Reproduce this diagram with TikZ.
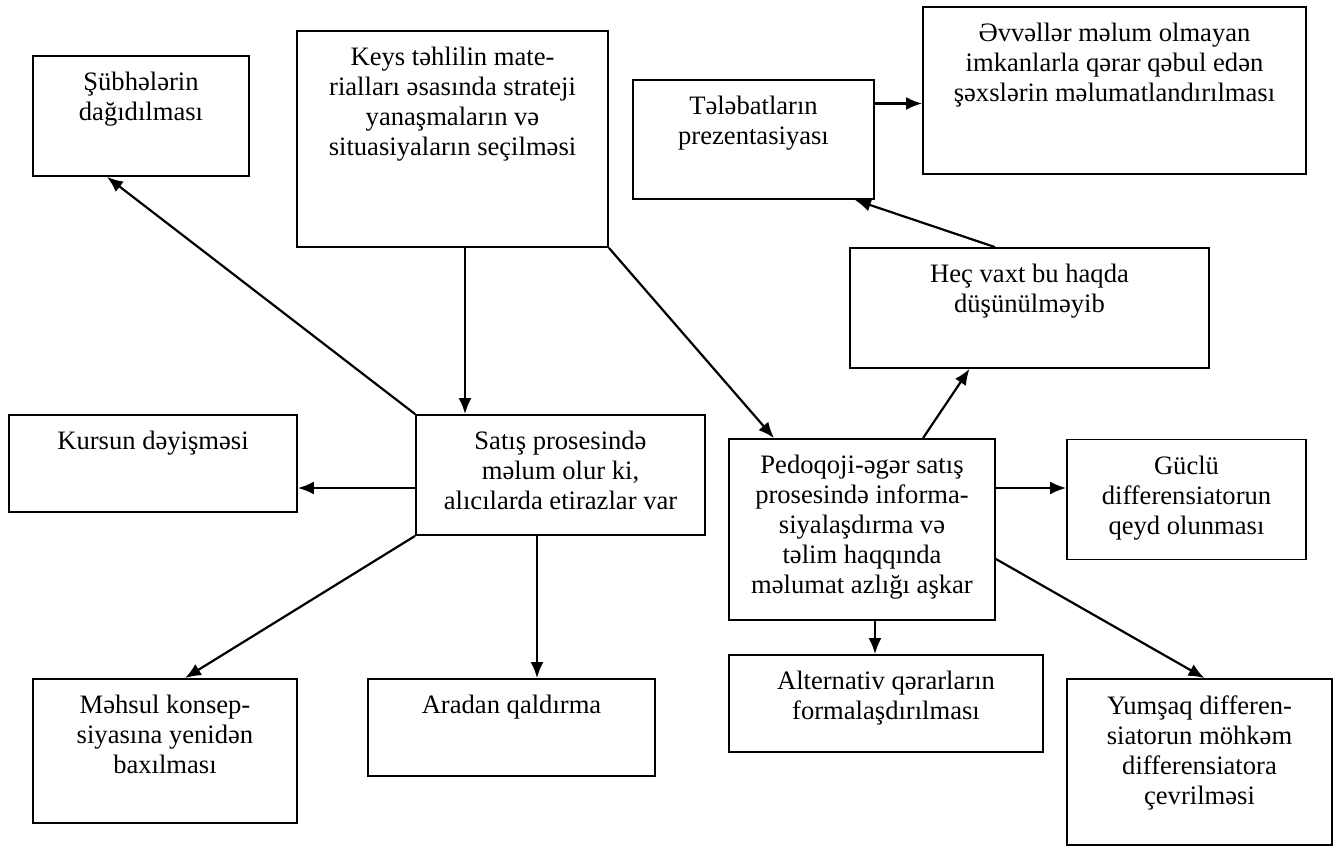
\documentclass[tikz,border=0pt]{standalone}
\usepackage{fontspec}
\setmainfont{Liberation Serif}
\usetikzlibrary{arrows.meta}

\begin{document}
\begin{tikzpicture}[x=0.5pt,y=-0.5pt,
   box/.style={draw, line width=0.9, inner sep=0pt},
   txt/.style={anchor=north, align=center, inner xsep=0pt, inner ysep=8.5pt, font=\fontsize{13.3}{15}\selectfont},
   arr/.style={->,>={Latex[length=8pt,width=6.5pt]}, line width=1.1}]
\useasboundingbox (0,0) rectangle (1335,847);
      \node[box, minimum width=108pt, minimum height=60pt](subhe)  at (141,116) {};
      \node[box, minimum width=155.5pt, minimum height=108pt](keys)  at (452.5,139) {};
      \node[box, minimum width=120.5pt, minimum height=59.5pt](telebat)  at (753.5,139.5) {};
      \node[box, minimum width=191.5pt, minimum height=83.5pt](evveller)  at (1114.5,90.5) {};
      \node[box, minimum width=179.5pt, minimum height=60pt](hec)  at (1029.5,308) {};
      \node[box, minimum width=144pt, minimum height=48.5pt](kursun)  at (153,463.5) {};
      \node[box, minimum width=144.5pt, minimum height=60pt](satis)  at (560.5,475) {};
      \node[box, minimum width=133pt, minimum height=90.5pt](pedoq)  at (862,529.5) {};
      \node[box, minimum width=119.5pt, minimum height=60pt](guclu)  at (1186.5,499.5) {};
      \node[box, minimum width=132pt, minimum height=72pt](mehsul)  at (165,751) {};
      \node[box, minimum width=143.5pt, minimum height=48.5pt](aradan)  at (511.5,727.5) {};
      \node[box, minimum width=157pt, minimum height=48.5pt](altern)  at (886,703.5) {};
      \node[box, minimum width=132.5pt, minimum height=83pt](yumsaq)  at (1199.5,762) {};

      \node[txt](subhe-t)  at (subhe.north) {Şübhələrin\\dağıdılması};
      \node[txt](keys-t)  at (keys.north) {Keys təhlilin mate-\\rialları əsasında strateji\\yanaşmaların və\\situasiyaların seçilməsi};
      \node[txt](telebat-t)  at (telebat.north) {Tələbatların\\prezentasiyası};
      \node[txt](evveller-t)  at (evveller.north) {Əvvəllər məlum olmayan\\imkanlarla qərar qəbul edən\\şəxslərin məlumatlandırılması};
      \node[txt](hec-t)  at (hec.north) {Heç vaxt bu haqda\\düşünülməyib};
      \node[txt](kursun-t)  at (kursun.north) {Kursun dəyişməsi};
      \node[txt](satis-t)  at (satis.north) {Satış prosesində\\məlum olur ki,\\alıcılarda etirazlar var};
      \node[txt](pedoq-t)  at (pedoq.north) {Pedoqoji-əgər satış\\prosesində informa-\\siyalaşdırma və\\təlim haqqında\\məlumat azlığı aşkar};
      \node[txt](guclu-t)  at (guclu.north) {Güclü\\differensiatorun\\qeyd olunması};
      \node[txt](mehsul-t)  at (mehsul.north) {Məhsul konsep-\\siyasına yenidən\\baxılması};
      \node[txt](aradan-t)  at (aradan.north) {Aradan qaldırma};
      \node[txt](altern-t)  at (altern.north) {Alternativ qərarların\\formalaşdırılması};
      \node[txt](yumsaq-t)  at (yumsaq.north) {Yumşaq differen-\\siatorun möhkəm\\differensiatora\\çevrilməsi};

      \draw[arr] ([xshift=6.25pt]keys.south) -- ([xshift=6.25pt]keys.south |- satis.north);
      \draw[arr] (satis.north west) -- ([xshift=-17pt]subhe.south);
      \draw[arr] ([yshift=-6.5pt]satis.west) -- ([yshift=-6.5pt]satis.west -| kursun.east);
      \draw[arr] (satis.south west) -- ([xshift=10pt]mehsul.north);
      \draw[arr] ([xshift=-11.75pt]satis.south) -- ([xshift=-11.75pt]satis.south |- aradan.north);
      \draw[arr] (keys.south east) -- ([xshift=-44pt]pedoq.north);
      \draw[arr] ([xshift=30.5pt]pedoq.north) -- ([xshift=-30pt]hec.south);
      \draw[arr] ([xshift=-17.25pt]hec.north) -- ([xshift=-10pt]telebat.south east);
      \draw[arr] ([yshift=18pt]telebat.east) -- ([yshift=18pt]telebat.east -| evveller.west);
      \draw[arr] ([yshift=20.75pt]pedoq.east) -- ([yshift=20.75pt]pedoq.east -| guclu.west);
      \draw[arr] ([xshift=6.5pt]pedoq.south) -- ([xshift=6.5pt]pedoq.south |- altern.north);
      \draw[arr] ([yshift=-14.75pt]pedoq.east) -- ([xshift=2.5pt]yumsaq.north);
\end{tikzpicture}
\end{document}
